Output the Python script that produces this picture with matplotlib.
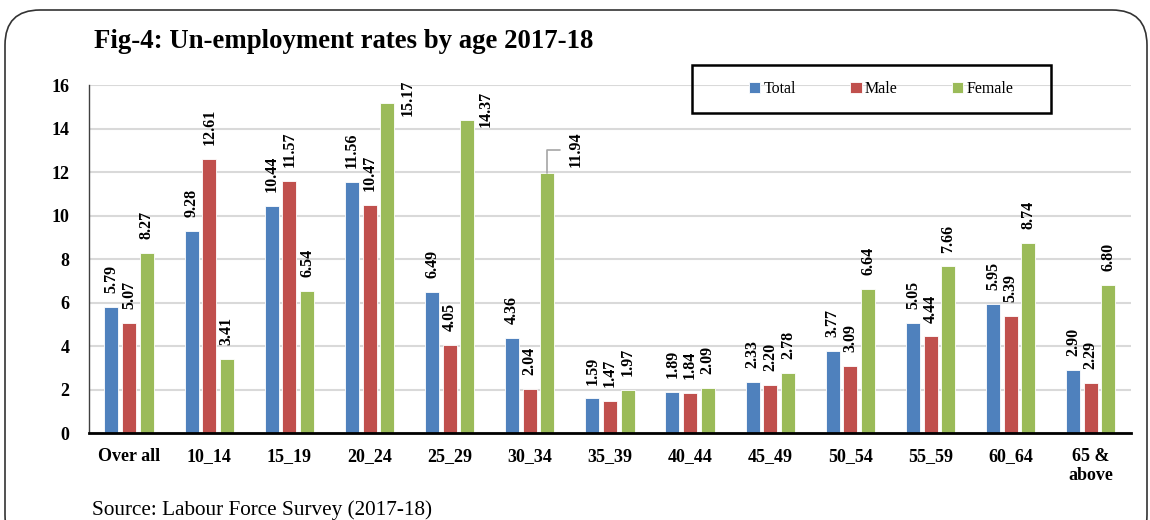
import matplotlib
matplotlib.use("Agg")
import matplotlib.pyplot as plt
import numpy as np
from matplotlib.patches import FancyBboxPatch, Rectangle
from matplotlib.transforms import IdentityTransform

categories = ["Over all", "10_14", "15_19", "20_24", "25_29", "30_34", "35_39",
              "40_44", "45_49", "50_54", "55_59", "60_64", "65 &\nabove"]
total = [5.79, 9.28, 10.44, 11.56, 6.49, 4.36, 1.59, 1.89, 2.33, 3.77, 5.05, 5.95, 2.90]
male = [5.07, 12.61, 11.57, 10.47, 4.05, 2.04, 1.47, 1.84, 2.20, 3.09, 4.44, 5.39, 2.29]
female = [8.27, 3.41, 6.54, 15.17, 14.37, 11.94, 1.97, 2.09, 2.78, 6.64, 7.66, 8.74, 6.80]
series_names = ["Total", "Male", "Female"]
yticks = [0, 2, 4, 6, 8, 10, 12, 14, 16]

colors = ["#4F81BD", "#C0504D", "#9BBB59"]
serif = ["Liberation Serif", "DejaVu Serif"]
plt.rcParams["font.family"] = serif

fig = plt.figure(figsize=(11.5, 5.2), dpi=100)
ax = fig.add_axes([0.0774, 0.1673, 0.906, 0.6692])

x = np.arange(len(categories))
width = 0.175
step = 0.22
series = [total, male, female]
bars_all = []
for i, (vals, name, c) in enumerate(zip(series, series_names, colors)):
    b = ax.bar(x + (i - 1) * step, vals, width, color=c, edgecolor="white",
               linewidth=0.6, label=name, zorder=3)
    bars_all.append(b)

# special label placements (offset in points)
special = {(2, 3): (15, 4), (2, 4): (13, 8)}
lab_fs = 11.5
for si, b in enumerate(bars_all):
    for ci, rect in enumerate(b):
        v = series[si][ci]
        cx = rect.get_x() + rect.get_width() / 2
        txt = f"{v:.2f}"
        if (si, ci) in special:
            ox, oy = special[(si, ci)]
            ax.annotate(txt, (cx, v), xytext=(ox, oy), textcoords="offset points",
                        rotation=90, ha="center", va="center", fontsize=lab_fs,
                        fontweight="bold", zorder=5)
        elif (si, ci) == (2, 5):
            ax.annotate(txt, (cx, v), xytext=(20, 17), textcoords="offset points",
                        rotation=90, ha="center", va="center", fontsize=lab_fs,
                        fontweight="bold", zorder=5,
                        arrowprops=dict(arrowstyle="-", color="#A6A6A6", lw=1.2,
                                        connectionstyle="angle,angleA=0,angleB=90,rad=0",
                                        shrinkA=3, shrinkB=0))
        else:
            ax.annotate(txt, (cx, v), xytext=(0, 10), textcoords="offset points",
                        rotation=90, ha="center", va="bottom", fontsize=lab_fs,
                        fontweight="bold", zorder=5)

ax.set_xlim(-0.5, len(categories) - 0.5)
ax.set_ylim(0, 16)
ax.set_yticks(yticks)
ax.set_yticklabels([str(t) for t in yticks], fontsize=13, fontweight="bold")
ax.set_xticks(x)
ax.set_xticklabels(categories, fontsize=13, fontweight="bold", linespacing=1.1)
ax.tick_params(axis="both", length=0)
ax.tick_params(axis="y", pad=14)
ax.tick_params(axis="x", pad=11)
ax.grid(axis="y", color="#D9D9D9", lw=1.5, zorder=0)
ax.set_axisbelow(True)
for s in ["top", "right"]:
    ax.spines[s].set_visible(False)
ax.spines["bottom"].set_color("black")
ax.spines["bottom"].set_linewidth(2)
ax.spines["bottom"].set_zorder(4)
ax.spines["left"].set_color("#404040")
ax.spines["left"].set_linewidth(1)

# legend
leg = ax.legend(loc="center", bbox_to_anchor=(0.7603, 0.988), ncol=3, frameon=False,
                prop={"family": serif, "size": 11.5}, handlelength=0.7, handleheight=0.7,
                handletextpad=0.2, columnspacing=3.4)
ax.add_patch(Rectangle((603 / 1042, (433 - 113) / 348), 359 / 1042, 48 / 348,
                       transform=ax.transAxes, fill=False, edgecolor="black",
                       lw=1.8, clip_on=False, zorder=6))

fig.text(94 / 1150, 1 - 42 / 520, "Fig-4: Un-employment rates by age 2017-18",
         fontsize=19.3, fontweight="bold", ha="left", va="center")
fig.text(92 / 1150, 1 - 510 / 520, "Source: Labour Force Survey (2017-18)",
         fontsize=15.3, ha="left", va="center")

frame = FancyBboxPatch((5, -30), 1142, 540, boxstyle="round,pad=0,rounding_size=35",
                       transform=IdentityTransform(), fill=False, edgecolor="#333333",
                       lw=1.2, clip_on=False)
fig.patches.append(frame)

fig.savefig("out.png", dpi=100)
